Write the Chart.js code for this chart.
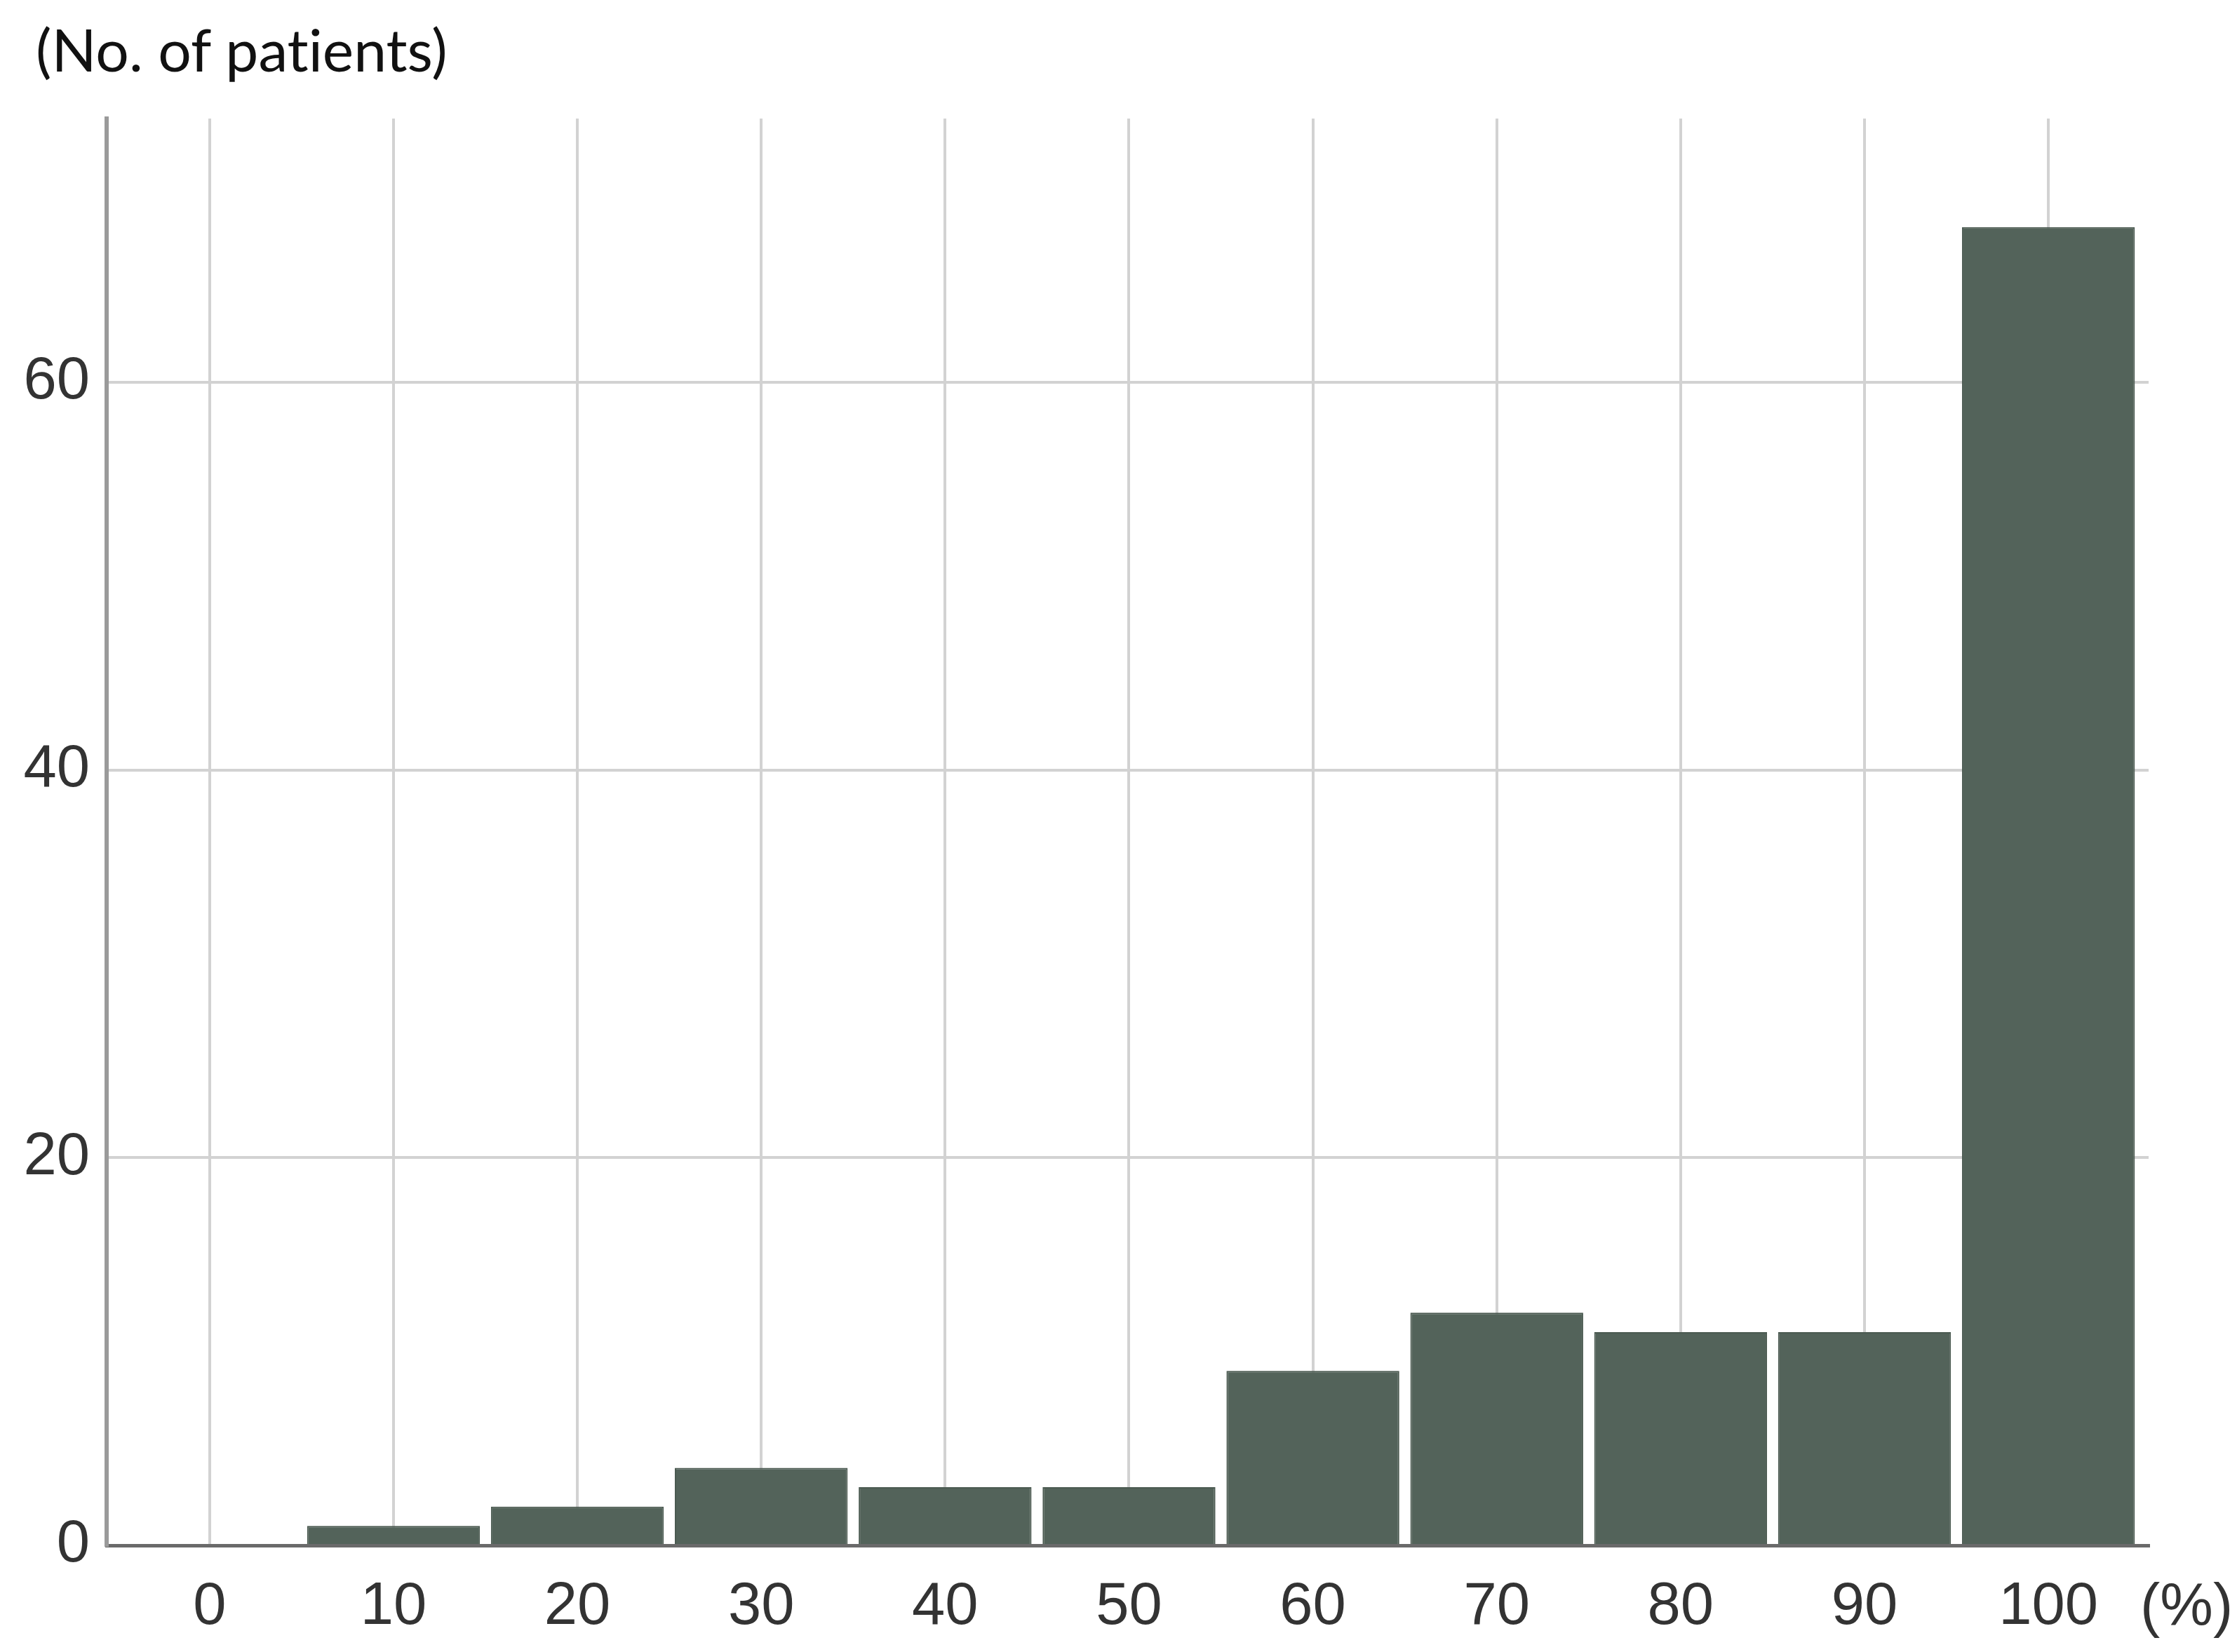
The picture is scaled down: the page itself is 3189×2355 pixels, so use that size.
<!DOCTYPE html>
<html>
<head>
<meta charset="utf-8">
<script src="https://cdn.jsdelivr.net/npm/chart.js@4"></script>
<style>
  html, body { margin: 0; padding: 0; background: #fff; }
  #wrap { position: relative; width: 3189px; height: 2355px; }
  canvas { position: absolute; left: 0; top: 0; }
  .lbl { position: absolute; line-height: 1; white-space: nowrap; }
  #ylab { left: 51px; top: 28px; font-family: Lato, sans-serif; font-size: 84px; color: #111; font-variant-ligatures: none; }
  #xlab { left: 3051px; top: 2245px; font-family: "Liberation Sans", Arial, sans-serif; font-size: 85px; color: #333; }
</style>
</head>
<body>
<div id="wrap">
  <canvas id="myChart" width="3189" height="2355"></canvas>
  <div class="lbl" id="ylab">(No. of patients)</div>
  <div class="lbl" id="xlab">(%)</div>
</div>
<script>
// percentage bins and patient counts
var bins = [0, 10, 20, 30, 40, 50, 60, 70, 80, 90, 100];
var patients = [0, 1, 2, 4, 3, 3, 9, 12, 11, 11, 68];
var yTicks = [0, 20, 40, 60];

var points = bins.map(function(b, i) {
  return { x: b, y: patients[i] };
});

var tickFont = { family: "'Liberation Sans', Arial, sans-serif", size: 85 };

var ctx = document.getElementById('myChart').getContext('2d');
var chart = new Chart(ctx, {
  type: 'bar',
  data: {
    datasets: [{
      label: 'patients',
      data: points,
      backgroundColor: '#53635a',
      borderColor: '#4b5a51',
      borderWidth: 2,
      barPercentage: 0.94,
      categoryPercentage: 1.0
    }]
  },
  options: {
    responsive: false,
    animation: false,
    layout: { padding: { left: 0, right: 126, top: 169, bottom: 0 } },
    plugins: { legend: { display: false }, tooltip: { enabled: false } },
    scales: {
      x: {
        type: 'linear',
        offset: false,
        min: -5.6,
        max: 105.45,
        afterFit: function(s) { s.height = 152; },
        afterBuildTicks: function(s) {
          s.ticks = bins.map(function(b) { return { value: b }; });
        },
        ticks: { font: tickFont, color: '#333', padding: 38, maxRotation: 0 },
        grid: { offset: false, color: '#d2d2d2', lineWidth: 4, drawTicks: false },
        border: { display: true, color: '#6a6a6a', width: 5 }
      },
      y: {
        min: 0,
        max: 73.6,
        afterFit: function(s) { s.width = 152; },
        afterBuildTicks: function(s) {
          s.ticks = yTicks.map(function(v) { return { value: v }; });
        },
        ticks: { font: tickFont, color: '#333', padding: 24 },
        grid: { color: '#d2d2d2', lineWidth: 4, drawTicks: false },
        border: { display: true, color: '#9a9a9a', width: 6 }
      }
    }
  }
});
</script>
</body>
</html>
